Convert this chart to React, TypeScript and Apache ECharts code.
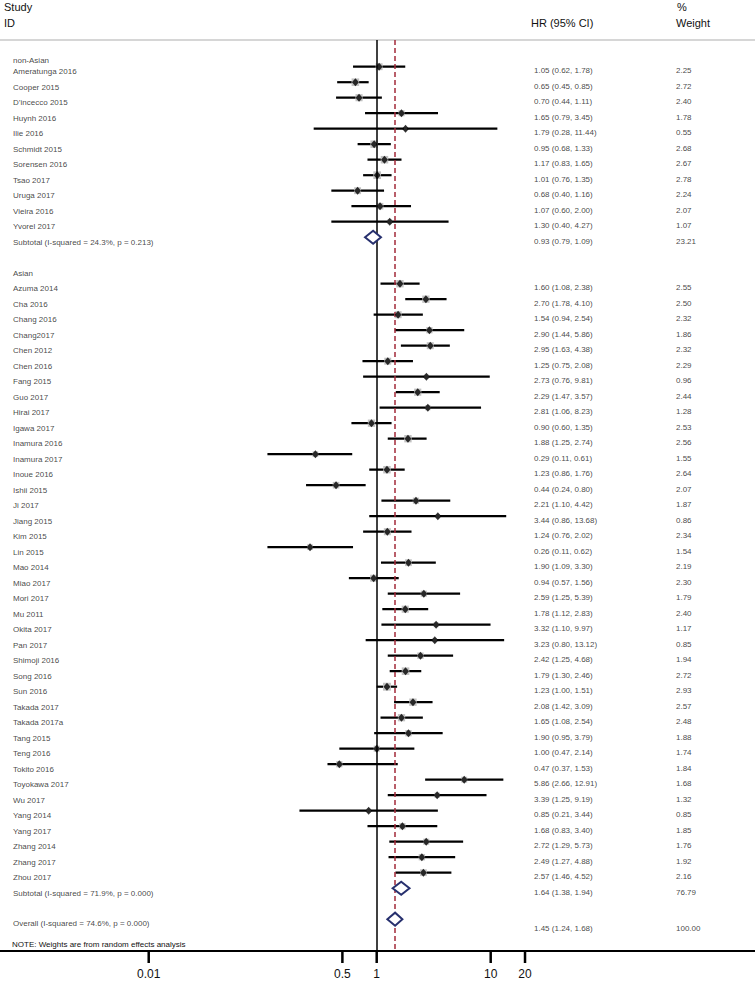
import React, { useEffect, useRef } from "react";
import * as echarts from "echarts";

const FONT = "'Liberation Sans', Arial, sans-serif";

const groupLabels = ["non-Asian", "Asian"];

const nonAsianStudies = ["Ameratunga 2016", "Cooper 2015", "D’incecco 2015", "Huynh 2016", "Ilie 2016", "Schmidt 2015", "Sorensen 2016", "Tsao 2017", "Uruga 2017", "Vieira 2016", "Yvorel 2017"];
const nonAsianHR = [1.05, 0.65, 0.70, 1.65, 1.79, 0.95, 1.17, 1.01, 0.68, 1.07, 1.30];
const nonAsianLower = [0.62, 0.45, 0.44, 0.79, 0.28, 0.68, 0.83, 0.76, 0.40, 0.60, 0.40];
const nonAsianUpper = [1.78, 0.85, 1.11, 3.45, 11.44, 1.33, 1.65, 1.35, 1.16, 2.00, 4.27];
const nonAsianWeight = [2.25, 2.72, 2.40, 1.78, 0.55, 2.68, 2.67, 2.78, 2.24, 2.07, 1.07];

const asianStudies = ["Azuma 2014", "Cha 2016", "Chang 2016", "Chang2017", "Chen 2012", "Chen 2016", "Fang 2015", "Guo 2017", "Hirai 2017", "Igawa 2017", "Inamura 2016", "Inamura 2017", "Inoue 2016", "Ishii 2015", "Ji 2017", "Jiang 2015", "Kim 2015", "Lin 2015", "Mao 2014", "Miao 2017", "Mori 2017", "Mu 2011", "Okita 2017", "Pan 2017", "Shimoji 2016", "Song 2016", "Sun 2016", "Takada 2017", "Takada 2017a", "Tang 2015", "Teng 2016", "Tokito 2016", "Toyokawa 2017", "Wu 2017", "Yang 2014", "Yang 2017", "Zhang 2014", "Zhang 2017", "Zhou 2017"];
const asianHR = [1.60, 2.70, 1.54, 2.90, 2.95, 1.25, 2.73, 2.29, 2.81, 0.90, 1.88, 0.29, 1.23, 0.44, 2.21, 3.44, 1.24, 0.26, 1.90, 0.94, 2.59, 1.78, 3.32, 3.23, 2.42, 1.79, 1.23, 2.08, 1.65, 1.90, 1.00, 0.47, 5.86, 3.39, 0.85, 1.68, 2.72, 2.49, 2.57];
const asianLower = [1.08, 1.78, 0.94, 1.44, 1.63, 0.75, 0.76, 1.47, 1.06, 0.60, 1.25, 0.11, 0.86, 0.24, 1.10, 0.86, 0.76, 0.11, 1.09, 0.57, 1.25, 1.12, 1.10, 0.80, 1.25, 1.30, 1.00, 1.42, 1.08, 0.95, 0.47, 0.37, 2.66, 1.25, 0.21, 0.83, 1.29, 1.27, 1.46];
const asianUpper = [2.38, 4.10, 2.54, 5.86, 4.38, 2.08, 9.81, 3.57, 8.23, 1.35, 2.74, 0.61, 1.76, 0.80, 4.42, 13.68, 2.02, 0.62, 3.30, 1.56, 5.39, 2.83, 9.97, 13.12, 4.68, 2.46, 1.51, 3.09, 2.54, 3.79, 2.14, 1.53, 12.91, 9.19, 3.44, 3.40, 5.73, 4.88, 4.52];
const asianWeight = [2.55, 2.50, 2.32, 1.86, 2.32, 2.29, 0.96, 2.44, 1.28, 2.53, 2.56, 1.55, 2.64, 2.07, 1.87, 0.86, 2.34, 1.54, 2.19, 2.30, 1.79, 2.40, 1.17, 0.85, 1.94, 2.72, 2.93, 2.57, 2.48, 1.88, 1.74, 1.84, 1.68, 1.32, 0.85, 1.85, 1.76, 1.92, 2.16];

const pooledLabels = ["Subtotal (I-squared = 24.3%, p = 0.213)", "Subtotal (I-squared = 71.9%, p = 0.000)", "Overall (I-squared = 74.6%, p = 0.000)"];
const pooledHR = [0.93, 1.64, 1.45];
const pooledLower = [0.79, 1.38, 1.24];
const pooledUpper = [1.09, 1.94, 1.68];
const pooledWeight = [23.21, 76.79, 100.0];

const xTickValues = [0.01, 0.5, 1, 10, 20];
const nullLineValue = 1;
const noteText = "NOTE: Weights are from random effects analysis";

const Y_MIN = -1.7226;
const Y_MAX = 57.052;

type Row = { kind: "header" | "study" | "pooled"; label: string; row: number; hr?: number; lo?: number; hi?: number; w?: number };

function buildRows(): Row[] {
  const rows: Row[] = [];
  const groups = [
    { s: nonAsianStudies, hr: nonAsianHR, lo: nonAsianLower, hi: nonAsianUpper, w: nonAsianWeight },
    { s: asianStudies, hr: asianHR, lo: asianLower, hi: asianUpper, w: asianWeight },
  ];
  let r = -1;
  groups.forEach((g, gi) => {
    rows.push({ kind: "header", label: groupLabels[gi], row: r });
    r += 1;
    g.s.forEach((name, i) => {
      rows.push({ kind: "study", label: name, row: r, hr: g.hr[i], lo: g.lo[i], hi: g.hi[i], w: g.w[i] });
      r += 1;
    });
    rows.push({ kind: "pooled", label: pooledLabels[gi], row: r, hr: pooledHR[gi], lo: pooledLower[gi], hi: pooledUpper[gi], w: pooledWeight[gi] });
    r += 2;
  });
  rows.push({ kind: "pooled", label: pooledLabels[2], row: r, hr: pooledHR[2], lo: pooledLower[2], hi: pooledUpper[2], w: pooledWeight[2] });
  return rows;
}

const fmtHR = (row: Row) => `${row.hr!.toFixed(2)} (${row.lo!.toFixed(2)}, ${row.hi!.toFixed(2)})`;

export default function App() {
  const ref = useRef<HTMLDivElement>(null);
  useEffect(() => {
    const chart = echarts.init(ref.current!, null, { renderer: "svg" });
    const rows = buildRows();
    const studies = rows.filter((r) => r.kind === "study");
    const pooled = rows.filter((r) => r.kind === "pooled");
    const lastRow = rows[rows.length - 1].row;

    const STUDY_X = 13;
    const HR_X = 534;
    const W_X = 676;
    const textColor = "#111";

    const labelSeries = (items: { name: string; row: number; dy: number }[], x: number) => ({
      type: "scatter",
      xAxisIndex: 1,
      yAxisIndex: 0,
      symbolSize: 0,
      silent: true,
      z: 6,
      data: items.map((it) => ({ name: it.name, value: [x, it.row], label: { offset: [0, it.dy] } })),
      label: { show: true, position: "right", distance: 0, formatter: "{b}", fontSize: 8, color: textColor, fontFamily: FONT },
      emphasis: { disabled: true },
    });

    const studyLabelItems = rows.map((r) => ({
      name: r.label,
      row: r.row,
      dy: r.kind === "header" && r.row < 0 ? 9 : r.row === lastRow ? 4 : 5,
    }));
    const hrItems = rows.filter((r) => r.kind !== "header").map((r) => ({ name: fmtHR(r), row: r.row, dy: r.row === lastRow ? 9 : 4 }));
    const wItems = rows.filter((r) => r.kind !== "header").map((r) => ({ name: r.w!.toFixed(2), row: r.row, dy: r.row === lastRow ? 9 : 4 }));

    const headerGraphics: any[] = [
      { type: "text", x: 4, y: 7, style: { text: "Study", fontSize: 11, fill: textColor, fontFamily: FONT, verticalAlign: "middle" } },
      { type: "text", x: 4, y: 23, style: { text: "ID", fontSize: 11, fill: textColor, fontFamily: FONT, verticalAlign: "middle" } },
      { type: "text", x: 531, y: 23, style: { text: "HR (95% CI)", fontSize: 11, fill: textColor, fontFamily: FONT, verticalAlign: "middle" } },
      { type: "text", x: 677, y: 7, style: { text: "%", fontSize: 11, fill: textColor, fontFamily: FONT, verticalAlign: "middle" } },
      { type: "text", x: 676, y: 23, style: { text: "Weight", fontSize: 11, fill: textColor, fontFamily: FONT, verticalAlign: "middle" } },
      { type: "text", x: 12, y: 944, style: { text: noteText, fontSize: 8, fill: textColor, fontFamily: FONT, verticalAlign: "middle" } },
    ];

    const option: any = {
      animation: false,
      backgroundColor: "#fff",
      textStyle: { fontFamily: FONT },
      grid: { left: 0, right: 0, top: 40, bottom: 31, containLabel: false },
      xAxis: [
        {
          type: "log",
          logBase: 10,
          min: 0.000496,
          max: 2082,
          position: "bottom",
          axisLine: { show: true, onZero: false, lineStyle: { color: "#000", width: 2 } },
          axisTick: { show: false },
          axisLabel: {
            show: true,
            customValues: xTickValues,
            margin: 17,
            fontSize: 12,
            color: textColor,
            fontFamily: FONT,
            formatter: (v: number) => String(parseFloat(Number(v).toPrecision(6))),
          },
          splitLine: { show: false },
          minorTick: { show: false },
        },
        {
          type: "value",
          min: 0,
          max: 755,
          position: "top",
          axisLine: { show: true, onZero: false, lineStyle: { color: "#c8c8c8", width: 1.5 } },
          axisTick: { show: false },
          axisLabel: { show: false },
          splitLine: { show: false },
        },
      ],
      yAxis: {
        type: "value",
        inverse: true,
        min: Y_MIN,
        max: Y_MAX,
        show: false,
      },
      graphic: headerGraphics,
      series: [
        {
          type: "scatter",
          data: [],
          z: 1,
          silent: true,
          markLine: {
            silent: true,
            symbol: ["none", "none"],
            label: { show: false },
            animation: false,
            data: [
              { xAxis: nullLineValue, lineStyle: { color: "#000", width: 1.5, type: "solid" } },
              { xAxis: pooledHR[2], lineStyle: { color: "#a32a3a", width: 1.5, type: [5, 3] } },
            ],
          },
        },
        {
          type: "custom",
          z: 3,
          silent: true,
          data: studies.map((s) => [s.lo, s.hi, s.row]),
          encode: { x: [0, 1], y: 2 },
          renderItem: (_p: any, api: any) => {
            const a = api.coord([api.value(0), api.value(2)]);
            const b = api.coord([api.value(1), api.value(2)]);
            return { type: "line", shape: { x1: a[0], y1: a[1], x2: b[0], y2: b[1] }, style: { stroke: "#000", lineWidth: 2.2 } };
          },
        },
        {
          type: "scatter",
          z: 4,
          silent: true,
          symbol: "rect",
          symbolSize: (v: number[]) => Math.sqrt(v[2]) * 4.6,
          itemStyle: { color: "#c2c2c2", opacity: 1 },
          data: studies.map((s) => [s.hr, s.row, s.w]),
        },
        {
          type: "scatter",
          z: 5,
          silent: true,
          symbol: "diamond",
          symbolSize: [7, 8],
          itemStyle: { color: "#000" },
          data: studies.map((s) => [s.hr, s.row]),
        },
        {
          type: "custom",
          z: 5,
          silent: true,
          data: pooled.map((p) => [p.hr, p.lo, p.hi, p.row]),
          encode: { x: [0, 1, 2], y: 3 },
          renderItem: (_p: any, api: any) => {
            const row = api.value(3);
            const c = api.coord([api.value(0), row]);
            const l = api.coord([api.value(1), row]);
            const r = api.coord([api.value(2), row]);
            const h = 6.5;
            return {
              type: "polygon",
              shape: { points: [[l[0], c[1]], [c[0], c[1] - h], [r[0], c[1]], [c[0], c[1] + h]] },
              style: { fill: "#fff", stroke: "#27306e", lineWidth: 2 },
            };
          },
        },
        labelSeries(studyLabelItems, STUDY_X),
        labelSeries(hrItems, HR_X),
        labelSeries(wItems, W_X),
      ],
    };
    chart.setOption(option);

    // tick marks below the axis line, placed through the chart's own log scale
    const pts = xTickValues.map((v) => chart.convertToPixel({ xAxisIndex: 0, yAxisIndex: 0 }, [v, Y_MAX]) as number[]);
    const tickGraphics = pts.map((p) => ({ type: "rect", z: 100, shape: { x: p[0] - 1.25, y: p[1], width: 2.5, height: 12 }, style: { fill: "#000" } }));
    chart.setOption({ graphic: [...headerGraphics, ...tickGraphics] });

    return () => chart.dispose();
  }, []);
  return <div ref={ref} style={{ position: "absolute", left: 0, top: 0, width: 755, height: 982, background: "#fff" }} />;
}
